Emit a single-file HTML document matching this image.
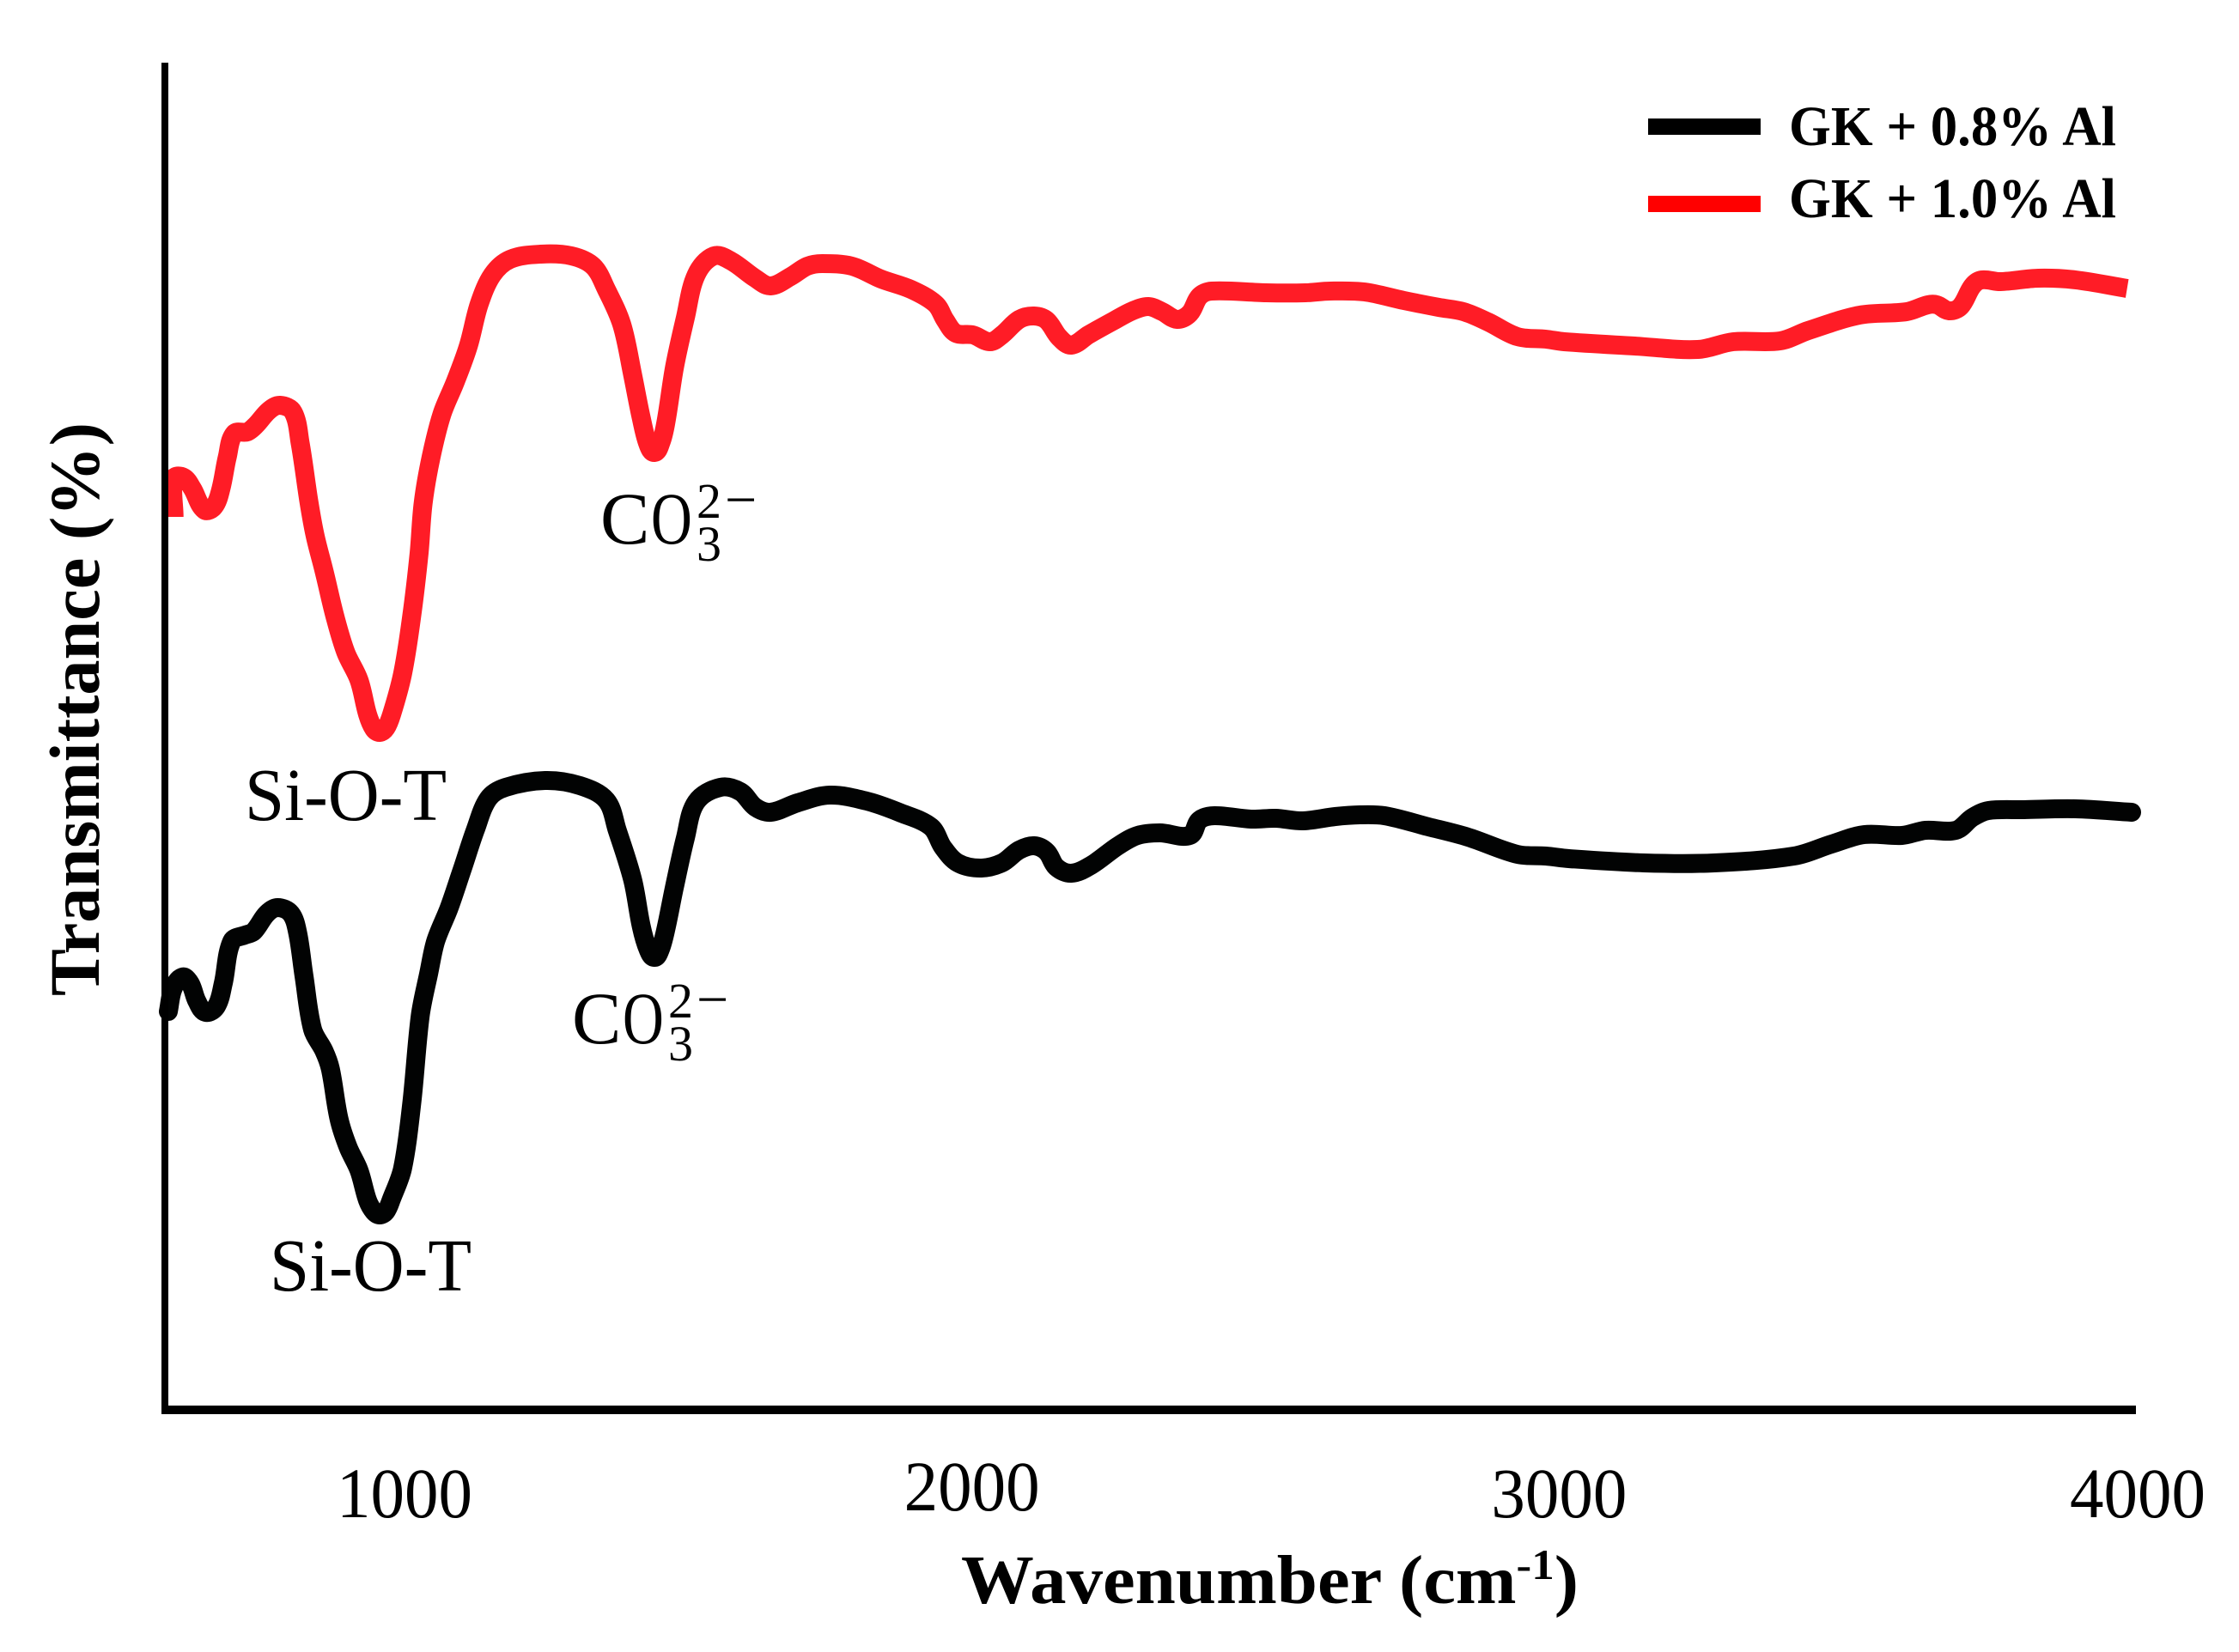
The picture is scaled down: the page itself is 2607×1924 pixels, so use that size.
<!DOCTYPE html>
<html lang="en">
<head>
<meta charset="utf-8">
<title>FTIR spectra: GK + Al</title>
<style>
html,body{margin:0;padding:0;background:#fff;}
svg{display:block;}
text{font-family:"Liberation Serif",serif;fill:#000;}
</style>
</head>
<body>
<svg id="chart" xmlns="http://www.w3.org/2000/svg" width="2607" height="1924" viewBox="0 0 2607 1924">
  <rect x="0" y="0" width="2607" height="1924" fill="#fff"/>
  <g id="series"></g>
  <rect x="188" y="73" width="8" height="1574" fill="#000"/>
  <rect x="188" y="1637" width="2299" height="10" fill="#000"/>
  <g id="ticks"></g>

  <text x="1119" y="1867" font-size="80" font-weight="bold" textLength="719" lengthAdjust="spacingAndGlyphs">Wavenumber (cm<tspan font-size="50" dy="-28">-1</tspan><tspan dy="28">)</tspan></text>
  <text transform="translate(115,1160) rotate(-90)" font-size="83" font-weight="bold" textLength="668" lengthAdjust="spacingAndGlyphs">Transmittance (%)</text>

  <g>
    <rect x="1919" y="138" width="131" height="19" fill="#000"/>
    <text x="2083" y="169" font-size="66" font-weight="bold" textLength="381" lengthAdjust="spacingAndGlyphs">GK + 0.8% Al</text>
    <rect x="1919" y="228" width="131" height="19" fill="#f00"/>
    <text x="2083" y="253" font-size="66" font-weight="bold" textLength="381" lengthAdjust="spacingAndGlyphs">GK + 1.0% Al</text>
  </g>

  <g>
    <text x="699" y="633" font-size="86">C</text>
    <text transform="translate(758,633) scale(.77,1)" font-size="86">O</text>
    <text x="811" y="603" font-size="58">2</text>
    <text x="811" y="653" font-size="58">3</text>
    <text x="844" y="604" font-size="66">−</text>
  </g>
  <g transform="translate(-33,582)">
    <text x="699" y="633" font-size="86">C</text>
    <text transform="translate(758,633) scale(.77,1)" font-size="86">O</text>
    <text x="811" y="603" font-size="58">2</text>
    <text x="811" y="653" font-size="58">3</text>
    <text x="844" y="604" font-size="66">−</text>
  </g>
  <text x="285" y="955" font-size="87" textLength="235" lengthAdjust="spacingAndGlyphs">Si-O-T</text>
  <text x="314" y="1503" font-size="87" textLength="235" lengthAdjust="spacingAndGlyphs">Si-O-T</text>
</svg>

<script>
// Values. Wavenumber in cm-1; transmittance in offset (stacked) units.
var redWavenumber = [566,566,583,598,619,636,648,659,671,694,709,732,751,774,786,801,812,828,847,866,889,904,915,925,936,946,965,981,994,1001,1015,1034,1057,1080,1099,1122,1153,1206,1260,1298,1321,1348,1367,1382,1394,1405,1416,1425,1440,1459,1478,1509,1539,1581,1608,1643,1672,1698,1750,1801,1853,1896,1913,1931,1961,1991,2012,2042,2068,2090,2112,2133,2163,2206,2240,2268,2292,2318,2340,2357,2378,2473,2542,2585,2645,2714,2775,2818,2861,2912,2962,2994,3117,3227,3289,3371,3420,3510,3592,3629,3645,3666,3686,3707,3723,3756,3822,3887,3977];
var redTransmittance = [104.0,108.5,108.6,107.3,104.8,105.2,107.3,111.0,113.7,113.9,114.7,116.4,117.0,116.2,112.7,106.0,101.9,97.7,92.4,88.2,85.0,81.0,79.3,78.9,79.4,81.0,85.7,92.4,99.8,105.6,111.0,116.0,119.7,123.9,128.8,132.2,134.0,134.6,134.4,133.2,130.5,126.4,120.5,115.5,112.4,111.5,112.6,115.0,121.4,127.2,132.2,134.4,133.8,131.8,130.9,132.0,133.2,133.5,133.2,131.7,130.5,128.8,126.9,125.4,125.2,124.4,125.2,127.0,127.4,126.9,124.9,124.0,125.2,126.8,128.0,128.5,127.9,127.0,127.7,129.7,130.3,130.1,130.1,130.3,130.2,129.2,128.4,127.9,126.7,125.0,124.7,124.4,123.9,123.5,124.4,124.5,125.7,127.5,127.9,128.7,128.7,128.0,128.5,130.9,131.6,131.4,131.8,131.6,130.6];

var blackWavenumber = [556,564,580,594,606,621,640,652,667,690,705,728,747,770,782,793,808,828,839,854,870,889,904,915,925,936,946,965,981,996,1011,1023,1046,1069,1092,1115,1145,1214,1275,1321,1340,1367,1382,1394,1405,1415,1425,1440,1459,1478,1520,1555,1581,1608,1655,1711,1776,1836,1888,1909,1935,1974,2012,2042,2068,2090,2107,2133,2167,2215,2249,2288,2340,2357,2383,2447,2490,2538,2594,2637,2680,2757,2826,2912,2962,3002,3133,3256,3395,3461,3518,3584,3625,3678,3707,3735,3797,3887,3985];
var blackTransmittance = [46.4,49.0,50.4,49.7,47.6,46.3,47.0,49.7,54.6,55.3,55.7,57.8,58.5,57.8,55.5,50.5,44.3,41.8,39.7,33.9,30.6,27.9,24.4,23.1,22.7,23.1,24.6,28.1,35.6,45.9,50.9,54.6,58.4,62.9,67.5,71.2,72.5,73.3,72.7,71.0,67.5,61.7,56.3,53.6,52.7,53.6,56.0,60.9,66.6,70.8,72.5,72.0,70.2,69.6,70.7,71.6,70.9,69.5,67.9,65.5,63.7,63.1,63.7,65.2,65.7,65.0,63.2,62.5,63.4,65.7,66.9,67.2,66.9,68.7,69.2,68.8,68.9,68.6,69.1,69.3,69.2,67.9,66.7,64.7,64.5,64.2,63.7,63.7,64.5,65.9,67.0,66.9,67.5,67.5,69.0,69.8,69.9,70.0,69.6];

var xTickLabels = ["1000","2000","3000","4000"];

// Axis domains and pixel ranges
var xDomain = [550, 4000];
var xRange = [192, 2492];
var yDomain = [0, 157];
var yRange = [1642, 72];

function xScale(w) {
  return xRange[0] + (w - xDomain[0]) * (xRange[1] - xRange[0]) / (xDomain[1] - xDomain[0]);
}
function yScale(t) {
  return yRange[0] + (t - yDomain[0]) * (yRange[1] - yRange[0]) / (yDomain[1] - yDomain[0]);
}

// Smooth path: tangent directions from neighbours, handle length from each segment
function linePath(ws, ts) {
  var pts = ws.map(function (w, i) { return [xScale(w), yScale(ts[i])]; });
  function dir(i) {
    var a = pts[Math.max(i - 1, 0)], b = pts[Math.min(i + 1, pts.length - 1)];
    var dx = b[0] - a[0], dy = b[1] - a[1], len = Math.hypot(dx, dy) || 1;
    return [dx / len, dy / len];
  }
  var d = "M" + pts[0][0].toFixed(1) + " " + pts[0][1].toFixed(1);
  for (var i = 0; i < pts.length - 1; i++) {
    var p1 = pts[i], p2 = pts[i + 1];
    var seg = Math.hypot(p2[0] - p1[0], p2[1] - p1[1]) / 3;
    var t1 = dir(i), t2 = dir(i + 1);
    d += "C" + (p1[0] + t1[0] * seg).toFixed(1) + " " + (p1[1] + t1[1] * seg).toFixed(1) + " " +
         (p2[0] - t2[0] * seg).toFixed(1) + " " + (p2[1] - t2[1] * seg).toFixed(1) + " " +
         p2[0].toFixed(1) + " " + p2[1].toFixed(1);
  }
  return d;
}

var NS = "http://www.w3.org/2000/svg";
var seriesGroup = document.getElementById("series");

var redLine = document.createElementNS(NS, "path");
redLine.setAttribute("d", linePath(redWavenumber, redTransmittance));
redLine.setAttribute("fill", "none");
redLine.setAttribute("stroke", "#ff1c26");
redLine.setAttribute("stroke-width", "22");
redLine.setAttribute("stroke-linejoin", "round");
redLine.setAttribute("stroke-linecap", "butt");


seriesGroup.appendChild(redLine);

var blackLine = document.createElementNS(NS, "path");
blackLine.setAttribute("d", linePath(blackWavenumber, blackTransmittance));
blackLine.setAttribute("fill", "none");
blackLine.setAttribute("stroke", "#020303");
blackLine.setAttribute("stroke-width", "22");
blackLine.setAttribute("stroke-linejoin", "round");
blackLine.setAttribute("stroke-linecap", "round");


seriesGroup.appendChild(blackLine);

// The printed labels sit slightly off their nominal positions in the source figure
var tickLabelShiftX = [-21, -27, -10, -3];
var tickLabelShiftY = [0, -8, 0, 0];
var tickGroup = document.getElementById("ticks");
xTickLabels.forEach(function (label, i) {
  var tick = document.createElementNS(NS, "text");
  tick.setAttribute("x", xScale(+label) + tickLabelShiftX[i]);
  tick.setAttribute("y", 1767 + tickLabelShiftY[i]);
  tick.setAttribute("font-size", "83");
  tick.setAttribute("text-anchor", "middle");
  tick.setAttribute("textLength", "158");
  tick.setAttribute("lengthAdjust", "spacingAndGlyphs");
  
  
  tick.textContent = label;
  tickGroup.appendChild(tick);
});
</script>
</body>
</html>
